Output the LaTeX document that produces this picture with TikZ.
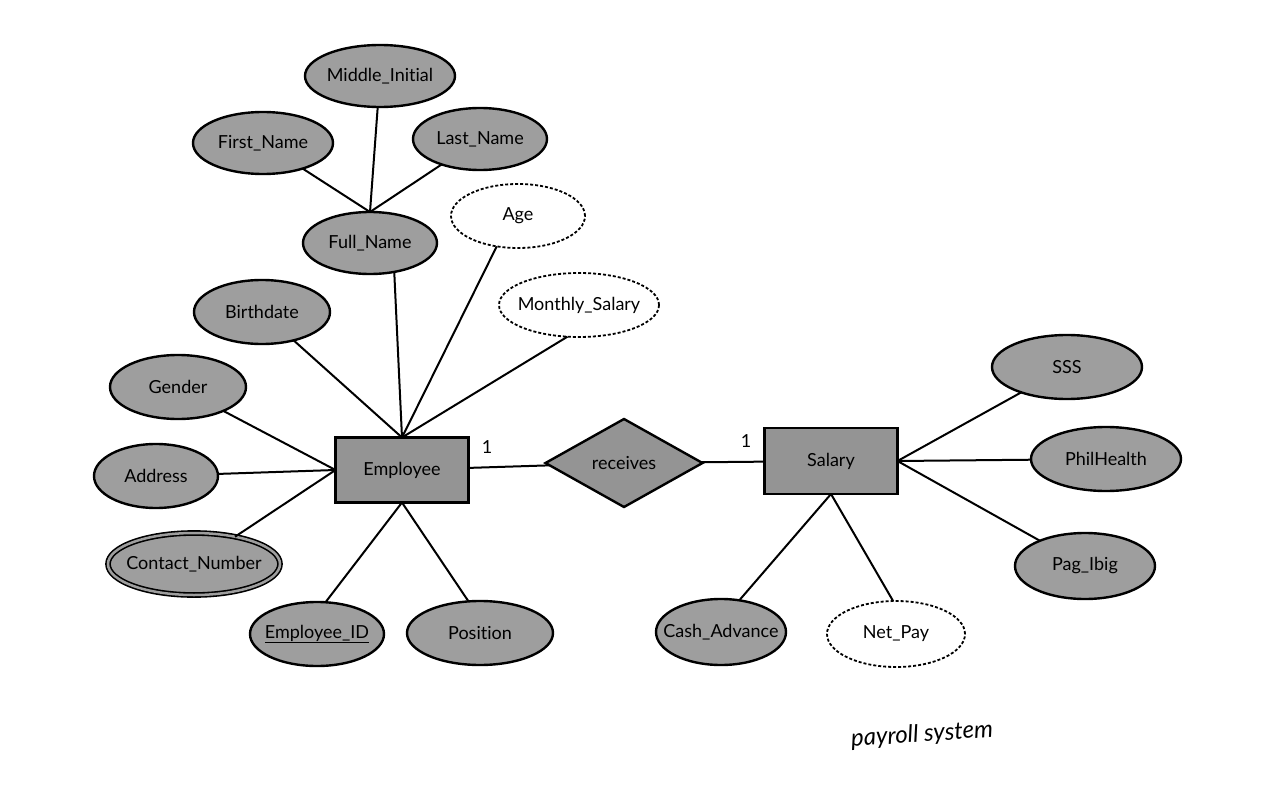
\documentclass[tikz,border=0pt]{standalone}
\usepackage{fontspec}
\setmainfont{Lato}[Ligatures={NoCommon,NoRare}]
\usetikzlibrary{shapes.geometric}
\newcommand{\lbl}[1]{\makebox[0pt]{#1}}
\tikzset{
  every node/.style={font=\fontsize{18}{20}\selectfont},
  attr/.style={ellipse, draw=black, line width=2.4pt, fill=black!38, inner sep=0pt, outer sep=0pt},
  derived/.style={ellipse, draw=black, line width=1.8pt, dash pattern=on 3pt off 2pt, fill=white, inner sep=0pt, outer sep=0pt},
  multi/.style={ellipse, draw=black, line width=1.6pt, double=black!38, double distance=2.5pt, fill=black!38, inner sep=0pt, outer sep=0pt},
  entity/.style={rectangle, draw=black, line width=2.4pt, fill=black!42, inner sep=0pt, outer sep=0pt},
  rel/.style={diamond, draw=black, line width=2.4pt, fill=black!42, inner sep=0pt, outer sep=0pt},
  conn/.style={line width=2pt, black},
  card/.style={inner sep=0pt}
}
\begin{document}
\begin{tikzpicture}[x=1pt,y=-1pt]
\useasboundingbox (0,0) rectangle (1280,797);
% Employee side
\node[attr, minimum width=150, minimum height=62] (mi) at (380,76) {\lbl{Middle\_Initial}};
\node[attr, minimum width=140, minimum height=62] (fn) at (263,143) {\lbl{First\_Name}};
\node[attr, minimum width=134, minimum height=62] (ln) at (480,139) {\lbl{Last\_Name}};
\node[attr, minimum width=134, minimum height=62] (full) at (370,243) {\lbl{Full\_Name}};
\node[derived, minimum width=134, minimum height=64] (age) at (518,216) {\lbl{Age}};
\node[derived, minimum width=160, minimum height=64] (msal) at (579,305) {\lbl{Monthly\_Salary}};
\node[attr, minimum width=136, minimum height=64] (bd) at (262,312) {\lbl{Birthdate}};
\node[attr, minimum width=136, minimum height=64] (gen) at (178,387) {\lbl{Gender}};
\node[attr, minimum width=124, minimum height=64] (addr) at (156,476) {\lbl{Address}};
\node[multi, minimum width=172, minimum height=62] (cn) at (194,564) {\lbl{Contact\_Number}};
\node[attr, minimum width=134, minimum height=64] (eid) at (317,634) {\lbl{\underline{Employee\_ID}}};
\node[attr, minimum width=146, minimum height=64] (pos) at (480,633) {\lbl{Position}};
\node[entity, minimum width=133, minimum height=65] (emp) at (402,470) {\lbl{Employee}};
% relationship
\node[rel, minimum width=157, minimum height=88] (rec) at (624,463) {\lbl{receives}};
% Salary side
\node[entity, minimum width=133, minimum height=66] (sal) at (831,461) {\lbl{Salary}};
\node[attr, minimum width=150, minimum height=64] (sss) at (1067,367) {\lbl{SSS}};
\node[attr, minimum width=150, minimum height=64] (ph) at (1106,459) {\lbl{PhilHealth}};
\node[attr, minimum width=140, minimum height=66] (pag) at (1085,566) {\lbl{Pag\_Ibig}};
\node[attr, minimum width=130, minimum height=66] (cash) at (721,632) {\lbl{Cash\_Advance}};
\node[derived, minimum width=138, minimum height=66] (net) at (896,634) {\lbl{Net\_Pay}};
% cardinalities
\node[card] (c1) at (487,447) {1};
\node[card] (c2) at (746,441) {1};
% handwritten note
\node[font=\fontsize{24}{26}\selectfont\itshape, rotate=4] (note) at (922,735) {payroll system};
% connectors
\draw[conn] (fn) -- (full.north);
\draw[conn] (mi) -- (full.north);
\draw[conn] (ln) -- (full.north);
\draw[conn] (full.-50) -- (emp.north);
\draw[conn] (age.-125) -- (emp.north);
\draw[conn] (msal.-110) -- (emp.north);
\draw[conn] (bd) -- (emp.north);
\draw[conn] (gen) -- (emp.west);
\draw[conn] (addr) -- (emp.west);
\draw[conn] (cn) -- (emp.west);
\draw[conn] (eid.75) -- (emp.south);
\draw[conn] (pos.110) -- (emp.south);
\draw[conn] (emp) -- (rec);
\draw[conn] (rec) -- (sal);
\draw[conn] (sal.east) -- (sss);
\draw[conn] (sal.east) -- (ph);
\draw[conn] (sal.east) -- (pag);
\draw[conn] (sal.south) -- (cash.60);
\draw[conn] (sal.south) -- (net.95);
\end{tikzpicture}
\end{document}
